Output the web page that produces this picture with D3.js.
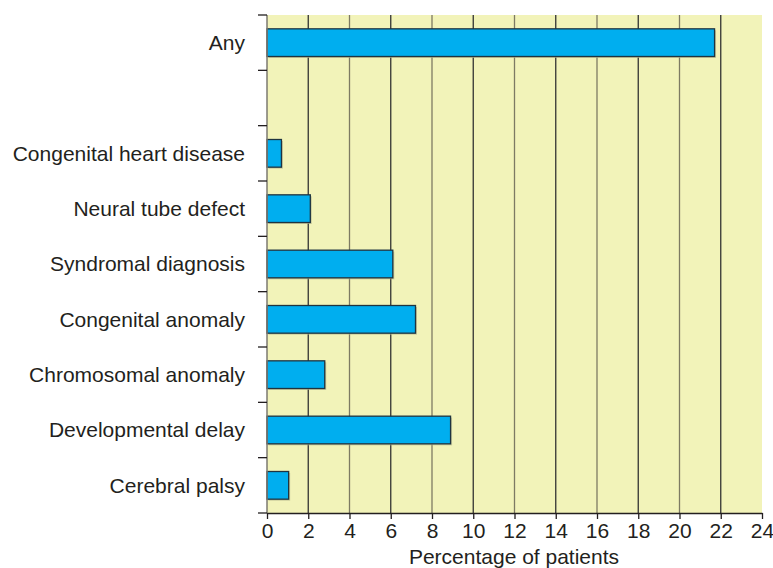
<!DOCTYPE html>
<html>
<head>
<meta charset="utf-8">
<script src="https://cdn.jsdelivr.net/npm/d3@7"></script>
<style>
  body { margin: 0; background: #fff; }
  text { font-family: Arial, "Liberation Sans", sans-serif; fill: #231f20; }
</style>
</head>
<body>
<div id="chart"></div>
<script>
// categories top to bottom, "" is the empty slot under "Any"
const categories = ["Any", "", "Congenital heart disease", "Neural tube defect", "Syndromal diagnosis",
  "Congenital anomaly", "Chromosomal anomaly", "Developmental delay", "Cerebral palsy"];
const values = [21.7, null, 0.7, 2.1, 6.1, 7.2, 2.8, 8.9, 1.05];
const xTicks = [0, 2, 4, 6, 8, 10, 12, 14, 16, 18, 20, 22, 24];
const xTitle = "Percentage of patients";

const width = 773, height = 568;
const margin = { top: 15, right: 11, bottom: 55, left: 267 };

const svg = d3.select("#chart").append("svg")
  .attr("width", width)
  .attr("height", height);

const x = d3.scaleLinear().domain([0, 24]).range([margin.left, width - margin.right]);
const y = d3.scaleBand().domain(categories.map((c, i) => i)).range([margin.top, height - margin.bottom])
  .paddingInner(0.5).paddingOuter(0.25);

// background
svg.append("rect")
  .attr("x", x(0)).attr("y", margin.top)
  .attr("width", x(24) - x(0)).attr("height", height - margin.bottom - margin.top)
  .attr("fill", "#f2f3b9");

// gridlines
svg.append("g").selectAll("line")
  .data(xTicks.filter(d => d > 0 && d < 24))
  .enter().append("line")
  .attr("x1", d => x(d)).attr("x2", d => x(d))
  .attr("y1", margin.top).attr("y2", height - margin.bottom)
  .attr("stroke", (d, i) => i % 2 ? "#7d7a63" : "#333")
  .attr("stroke-width", 1.3);

// bars with a soft shadow
const data = categories.map((c, i) => ({ i: i, v: values[i] })).filter(d => d.v != null);
svg.append("g").selectAll("rect")
  .data(data).enter().append("rect")
  .attr("x", x(0) + 1.5).attr("y", d => y(d.i) + 1.5)
  .attr("width", d => x(d.v) - x(0)).attr("height", y.bandwidth())
  .attr("fill", "#b9b98f").attr("opacity", 0.7);
svg.append("g").selectAll("rect")
  .data(data).enter().append("rect")
  .attr("x", x(0)).attr("y", d => y(d.i))
  .attr("width", d => x(d.v) - x(0)).attr("height", y.bandwidth())
  .attr("fill", "#00aeef")
  .attr("stroke", "#1f3440").attr("stroke-width", 1.3);

// left axis: line + ticks at band borders
const step = y.step();
const yAxisG = svg.append("g");
yAxisG.append("line")
  .attr("x1", x(0)).attr("x2", x(0))
  .attr("y1", margin.top).attr("y2", height - margin.bottom)
  .attr("stroke", "#7d7a70").attr("stroke-width", 1.5);
yAxisG.selectAll(".tk")
  .data(d3.range(categories.length + 1))
  .enter().append("line")
  .attr("x1", x(0) - 9).attr("x2", x(0))
  .attr("y1", d => margin.top + d * step).attr("y2", d => margin.top + d * step)
  .attr("stroke", "#231f20").attr("stroke-width", 1.3);
yAxisG.selectAll("text")
  .data(categories).enter().append("text")
  .attr("x", 245)
  .attr("y", (d, i) => y(i) + y.bandwidth() / 2)
  .attr("dy", "0.35em")
  .attr("text-anchor", "end")
  .style("font-size", "21px")
  .text(d => d);

// bottom axis
const xaxis = d3.axisBottom(x).tickValues(xTicks).tickSize(6).tickSizeOuter(0).tickFormat(d3.format("d"));
const xg = svg.append("g")
  .attr("transform", "translate(0," + (height - margin.bottom) + ")")
  .call(xaxis);
xg.select(".domain").attr("stroke", "#231f20").attr("stroke-width", 1.3);
xg.selectAll(".tick line").attr("stroke", "#231f20").attr("stroke-width", 1.3);
xg.selectAll(".tick text")
  .attr("y", 10)
  .style("font-size", "21px")
  .style("font-family", "Arial, 'Liberation Sans', sans-serif")
  .attr("fill", "#231f20");

svg.append("text")
  .attr("x", 514).attr("y", 564)
  .attr("text-anchor", "middle")
  .style("font-size", "21px")
  .text(xTitle);
</script>
</body>
</html>
